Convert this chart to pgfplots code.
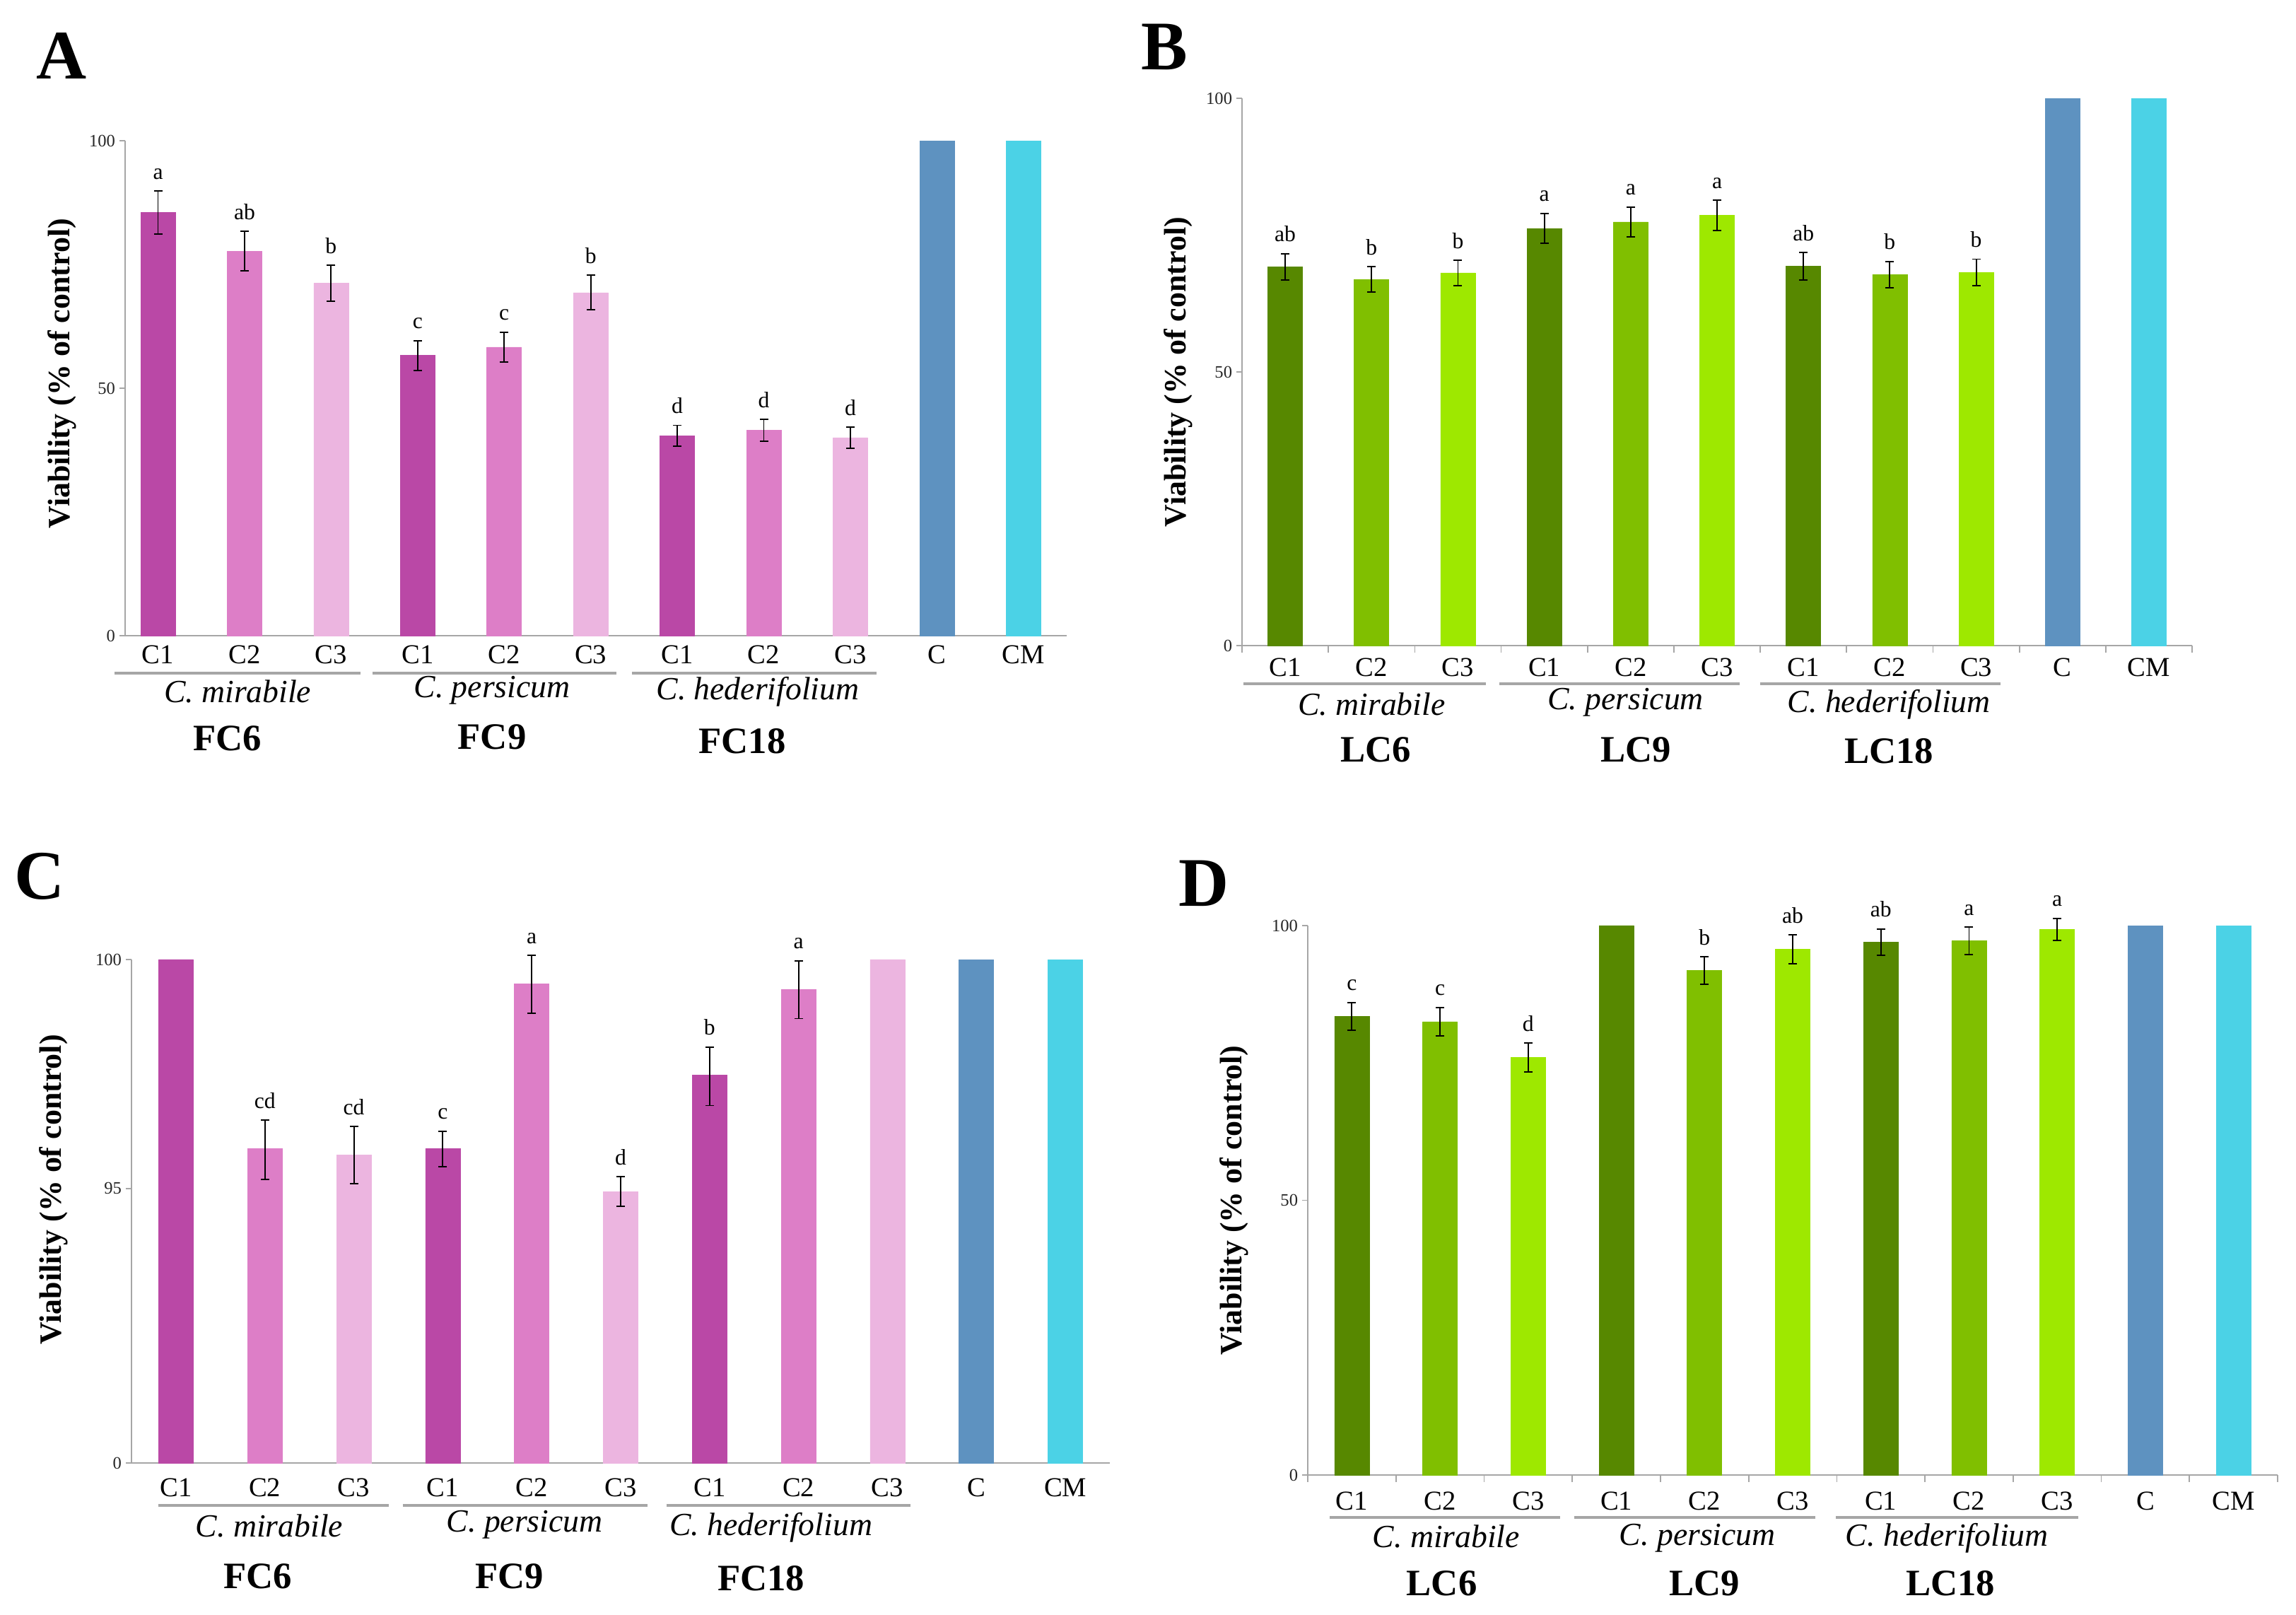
\documentclass[border=0pt]{standalone}
\usepackage{pgfplots}
\pgfplotsset{compat=1.18}
\usepackage{fontspec}
\setmainfont{Liberation Serif}

\definecolor{pkA}{HTML}{BA48A6}
\definecolor{pkB}{HTML}{DD7EC7}
\definecolor{pkC}{HTML}{ECB5E0}
\definecolor{gnA}{HTML}{578800}
\definecolor{gnB}{HTML}{80BF00}
\definecolor{gnC}{HTML}{9EE800}
\definecolor{ctrl}{HTML}{5E92C0}
\definecolor{ctrlm}{HTML}{4BD2E6}
\definecolor{axgray}{HTML}{A6A6A6}

\pgfplotsset{
  panel/.style={
    scale only axis, clip=false,
    xmin=-0.5, xmax=10.5, ymin=0, ymax=100,
    axis x line*=bottom, axis y line*=left,
    axis line style={draw=axgray, line width=0.6pt, -},
    xtick={0,...,10},
    xticklabels={C1,C2,C3,C1,C2,C3,C1,C2,C3,C,CM},
    minor xtick={-0.5,0.5,...,10.5},
    major x tick style={draw=none},
    minor x tick style={draw=axgray, line width=0.5pt},
    tick align=outside,
    minor tick length=0.1cm,
    major tick length=0.08cm,
    y tick style={draw=axgray, line width=0.5pt},
    ytick={0,50,100},
    /pgf/number format/assume math mode=true,
    yticklabel style={font=\fontsize{7}{8}\selectfont, text=black!85, inner sep=1.5pt},
    xticklabel style={font=\fontsize{11}{12}\selectfont, anchor=center},
    ylabel={Viability (\% of control)},
    ylabel style={font=\fontsize{12.5}{14}\selectfont\bfseries, anchor=center},
  },
  noxticks/.style={minor x tick style={draw=none}},
  bar0/.style={ybar, bar shift=0pt, bar width=0.49cm, draw=#1, line width=0.2pt, fill=#1},
  % error bar: a vertical stroke between its two ends, with a cap at each end
  ebar/.style={draw=black, line width=0.55pt, mark=-, mark size=0.06cm,
    mark options={draw=black, solid}, unbounded coords=jump},
  sig/.style={draw=none, mark=none, nodes near coords, point meta=explicit symbolic,
    every node near coord/.style={anchor=base, yshift=0.17cm,
      font=\fontsize{9}{10}\selectfont, text=black, inner sep=0pt}},
}
\tikzset{
  grp/.style={draw=axgray, line width=1.1pt},
  sp/.style={font=\fontsize{13}{14}\selectfont\itshape},
  code/.style={font=\fontsize{15}{16}\selectfont\bfseries},
  letter/.style={font=\fontsize{28}{30}\selectfont\bfseries},
}

\begin{document}
\begin{tikzpicture}
\useasboundingbox (0,0) rectangle (32.48,22.84);

% ---------- A ----------
\begin{axis}[panel, noxticks, at={(1.77cm,13.85cm)}, anchor=south west,
  width=13.32cm, height=7.00cm, xmin=-0.38,
  xticklabel style={yshift=-0.19cm},
  ylabel style={at={(axis description cs:-0.067,0.53)}}]
\addplot[bar0=pkA] coordinates {(0,85.5) (3,56.6) (6,40.4)};
\addplot[bar0=pkB] coordinates {(1,77.7) (4,58.3) (7,41.5)};
\addplot[bar0=pkC] coordinates {(2,71.2) (5,69.3) (8,40.0)};
\addplot[bar0=ctrl] coordinates {(9,100)};
\addplot[bar0=ctrlm] coordinates {(10,100)};
\addplot[ebar] coordinates {(0,81.2) (0,89.8) (0,nan) (1,73.7) (1,81.7) (1,nan)
  (2,67.6) (2,74.8) (2,nan) (3,53.6) (3,59.6) (3,nan) (4,55.3) (4,61.3) (4,nan)
  (5,65.8) (5,72.8) (5,nan) (6,38.3) (6,42.5) (6,nan) (7,39.3) (7,43.7) (7,nan)
  (8,37.9) (8,42.1)};
\addplot[sig] coordinates {(0,89.8)[a] (1,81.7)[ab] (2,74.8)[b] (3,59.6)[c] (4,61.3)[c]
  (5,72.8)[b] (6,42.5)[d] (7,43.7)[d] (8,42.1)[d]};
\draw[grp] ([yshift=-0.53cm]axis cs:-0.5,0) -- ([yshift=-0.53cm]axis cs:2.34,0);
\draw[grp] ([yshift=-0.53cm]axis cs:2.48,0) -- ([yshift=-0.53cm]axis cs:5.3,0);
\draw[grp] ([yshift=-0.53cm]axis cs:5.48,0) -- ([yshift=-0.53cm]axis cs:8.3,0);
\node[sp] at ([yshift=-0.79cm]axis cs:0.92,0) {C. mirabile};
\node[sp] at ([yshift=-0.77cm]axis cs:3.86,0) {C. persicum};
\node[sp] at ([yshift=-0.79cm]axis cs:6.93,0) {C. hederifolium};
\node[code] at ([yshift=-1.45cm]axis cs:0.8,0) {FC6};
\node[code] at ([yshift=-1.43cm]axis cs:3.86,0) {FC9};
\node[code] at ([yshift=-1.49cm]axis cs:6.75,0) {FC18};
\end{axis}

% ---------- B ----------
\begin{axis}[panel, at={(17.57cm,13.71cm)}, anchor=south west,
  width=13.44cm, height=7.74cm,
  xticklabel style={yshift=-0.23cm},
  ylabel style={at={(axis description cs:-0.067,0.5)}}]
\addplot[bar0=gnA] coordinates {(0,69.2) (3,76.2) (6,69.3)};
\addplot[bar0=gnB] coordinates {(1,66.9) (4,77.4) (7,67.8)};
\addplot[bar0=gnC] coordinates {(2,68.1) (5,78.6) (8,68.2)};
\addplot[bar0=ctrl] coordinates {(9,100)};
\addplot[bar0=ctrlm] coordinates {(10,100)};
\addplot[ebar] coordinates {(0,66.8) (0,71.6) (0,nan) (1,64.6) (1,69.2) (1,nan)
  (2,65.8) (2,70.4) (2,nan) (3,73.45) (3,78.95) (3,nan) (4,74.65) (4,80.15) (4,nan)
  (5,75.85) (5,81.35) (5,nan) (6,66.8) (6,71.8) (6,nan) (7,65.4) (7,70.2) (7,nan)
  (8,65.8) (8,70.6)};
\addplot[sig] coordinates {(0,71.6)[ab] (1,69.2)[b] (2,70.4)[b] (3,78.95)[a] (4,80.15)[a]
  (5,81.35)[a] (6,71.8)[ab] (7,70.2)[b] (8,70.6)[b]};
\draw[grp] ([yshift=-0.54cm]axis cs:-0.48,0) -- ([yshift=-0.54cm]axis cs:2.32,0);
\draw[grp] ([yshift=-0.54cm]axis cs:2.48,0) -- ([yshift=-0.54cm]axis cs:5.26,0);
\draw[grp] ([yshift=-0.54cm]axis cs:5.5,0) -- ([yshift=-0.54cm]axis cs:8.28,0);
\node[sp] at ([yshift=-0.83cm]axis cs:1.0,0) {C. mirabile};
\node[sp] at ([yshift=-0.8cm]axis cs:3.94,0) {C. persicum};
\node[sp] at ([yshift=-0.83cm]axis cs:6.99,0) {C. hederifolium};
\node[code] at ([yshift=-1.47cm]axis cs:1.05,0) {LC6};
\node[code] at ([yshift=-1.47cm]axis cs:4.06,0) {LC9};
\node[code] at ([yshift=-1.49cm]axis cs:6.99,0) {LC18};
\end{axis}

% ---------- C: the scale is cut below 89, tick "0" at the bottom ----------
\begin{axis}[panel, noxticks, at={(1.86cm,2.15cm)}, anchor=south west,
  width=13.84cm, height=7.12cm,
  y coord trafo/.code={\pgfmathparse{#1<=89 ? 0 : (#1-89)*9.0909}},
  y coord inv trafo/.code={\pgfmathparse{89+#1*0.11}},
  ytick={0,95,100}, yticklabels={0,95,100},
  xticklabel style={yshift=-0.27cm},
  ylabel style={at={(axis description cs:-0.080,0.543)}}]
\addplot[bar0=pkA] coordinates {(0,100) (3,95.87) (6,97.47)};
\addplot[bar0=pkB] coordinates {(1,95.87) (4,99.47) (7,99.34)};
\addplot[bar0=pkC] coordinates {(2,95.73) (5,94.93) (8,100)};
\addplot[bar0=ctrl] coordinates {(9,100)};
\addplot[bar0=ctrlm] coordinates {(10,100)};
\addplot[ebar] coordinates {(1,95.20) (1,96.49)};
\addplot[ebar] coordinates {(2,95.10) (2,96.35)};
\addplot[ebar] coordinates {(3,95.48) (3,96.25)};
\addplot[ebar] coordinates {(4,98.82) (4,100.09)};
\addplot[ebar] coordinates {(5,94.61) (5,95.25)};
\addplot[ebar] coordinates {(6,96.81) (6,98.09)};
\addplot[ebar] coordinates {(7,98.71) (7,99.97)};
\addplot[sig] coordinates {(1,96.49)[cd] (2,96.35)[cd] (3,96.25)[c] (4,100.09)[a]
  (5,95.25)[d] (6,98.09)[b] (7,99.97)[a]};
\draw[grp] ([yshift=-0.6cm]axis cs:-0.2,0) -- ([yshift=-0.6cm]axis cs:2.39,0);
\draw[grp] ([yshift=-0.6cm]axis cs:2.55,0) -- ([yshift=-0.6cm]axis cs:5.3,0);
\draw[grp] ([yshift=-0.6cm]axis cs:5.52,0) -- ([yshift=-0.6cm]axis cs:8.26,0);
\node[sp] at ([yshift=-0.89cm]axis cs:1.05,0) {C. mirabile};
\node[sp] at ([yshift=-0.87cm]axis cs:3.92,0) {C. persicum};
\node[sp] at ([yshift=-0.91cm]axis cs:6.69,0) {C. hederifolium};
\node[code] at ([yshift=-1.6cm]axis cs:0.92,0) {FC6};
\node[code] at ([yshift=-1.6cm]axis cs:3.75,0) {FC9};
\node[code] at ([yshift=-1.63cm]axis cs:6.58,0) {FC18};
\end{axis}

% ---------- D ----------
\begin{axis}[panel, at={(18.50cm,1.98cm)}, anchor=south west,
  width=13.72cm, height=7.77cm,
  xticklabel style={yshift=-0.29cm},
  ylabel style={at={(axis description cs:-0.076,0.5)}}]
\addplot[bar0=gnA] coordinates {(0,83.5) (3,100) (6,97.0)};
\addplot[bar0=gnB] coordinates {(1,82.5) (4,91.8) (7,97.2)};
\addplot[bar0=gnC] coordinates {(2,76.0) (5,95.7) (8,99.3)};
\addplot[bar0=ctrl] coordinates {(9,100)};
\addplot[bar0=ctrlm] coordinates {(10,100)};
\addplot[ebar] coordinates {(0,81.0) (0,86.0) (0,nan) (1,79.9) (1,85.1) (1,nan)
  (2,73.4) (2,78.6) (2,nan) (4,89.3) (4,94.3) (4,nan) (5,93.1) (5,98.3) (5,nan)
  (6,94.6) (6,99.4) (6,nan) (7,94.7) (7,99.7) (7,nan) (8,97.3) (8,101.3)};
\addplot[sig] coordinates {(0,86.0)[c] (1,85.1)[c] (2,78.6)[d] (4,94.3)[b] (5,98.3)[ab]
  (6,99.4)[ab] (7,99.7)[a] (8,101.3)[a]};
\draw[grp] ([yshift=-0.6cm]axis cs:-0.25,0) -- ([yshift=-0.6cm]axis cs:2.36,0);
\draw[grp] ([yshift=-0.6cm]axis cs:2.52,0) -- ([yshift=-0.6cm]axis cs:5.26,0);
\draw[grp] ([yshift=-0.6cm]axis cs:5.49,0) -- ([yshift=-0.6cm]axis cs:8.24,0);
\node[sp] at ([yshift=-0.87cm]axis cs:1.07,0) {C. mirabile};
\node[sp] at ([yshift=-0.89cm]axis cs:3.92,0) {C. persicum};
\node[sp] at ([yshift=-0.89cm]axis cs:6.75,0) {C. hederifolium};
\node[code] at ([yshift=-1.53cm]axis cs:1.02,0) {LC6};
\node[code] at ([yshift=-1.53cm]axis cs:4.0,0) {LC9};
\node[code] at ([yshift=-1.53cm]axis cs:6.79,0) {LC18};
\end{axis}

\node[letter] at (0.87,22.05) {A};
\node[letter] at (16.47,22.18) {B};
\node[letter] at (0.56,10.45) {C};
\node[letter] at (17.03,10.35) {D};
\end{tikzpicture}
\end{document}
